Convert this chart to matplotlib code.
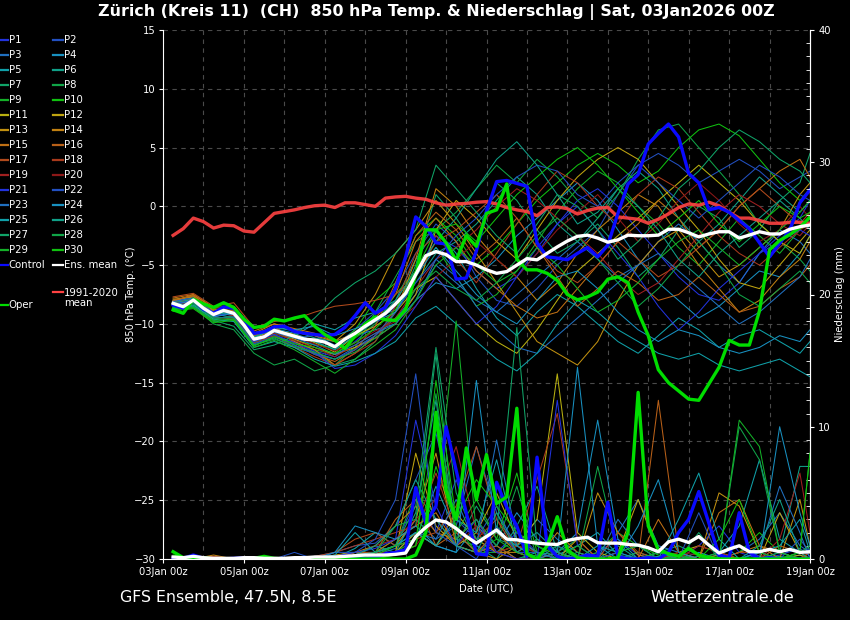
import numpy as np
import matplotlib
matplotlib.use('Agg')
import matplotlib.pyplot as plt
from matplotlib.lines import Line2D
from matplotlib.ticker import MultipleLocator

# time axis in hours after 03Jan2026 00Z
hours6 = np.arange(6, 385, 6)
hours12 = np.r_[np.arange(6, 384, 12), 384]
tick_hours = np.arange(0, 385, 48)
tick_labels = ['03Jan 00z', '05Jan 00z', '07Jan 00z', '09Jan 00z', '11Jan 00z',
               '13Jan 00z', '15Jan 00z', '17Jan 00z', '19Jan 00z']

# 6-hourly series: climatology, ensemble mean, control, operational run
clim_t = [-2.47, -1.9, -1.0, -1.3, -1.85, -1.6, -1.65, -2.1, -2.2, -1.4,
          -0.6, -0.45, -0.3, -0.1, 0.05, 0.1, -0.1, 0.3, 0.3, 0.15,
          0.0, 0.7, 0.8, 0.85, 0.7, 0.6, 0.3, 0.1, 0.2, 0.25,
          0.35, 0.4, 0.2, -0.1, -0.3, -0.45, -0.8, -0.1, -0.05, -0.2,
          -0.65, -0.35, -0.15, -0.1, -0.9, -1.0, -1.1, -1.44, -1.1, -0.65,
          -0.1, 0.2, 0.1, 0.35, 0.05, -0.5, -1.0, -1.0, -1.2, -1.44,
          -1.44, -1.37, -1.35, -1.44]
mean_t = [-8.25, -8.54, -7.97, -8.67, -9.2, -8.85, -9.1, -10.1, -11.3, -11.1,
          -10.55, -10.8, -11.05, -11.3, -11.37, -11.55, -11.95, -11.3, -10.8, -10.2,
          -9.65, -9.1, -8.3, -7.4, -5.8, -4.2, -3.85, -4.1, -4.7, -4.7,
          -5.0, -5.4, -5.7, -5.55, -5.0, -4.45, -4.55, -4.0, -3.45, -2.95,
          -2.55, -2.45, -2.7, -3.05, -2.85, -2.45, -2.5, -2.5, -2.45, -1.95,
          -1.95, -2.25, -2.6, -2.35, -2.16, -2.16, -2.7, -2.45, -2.16, -2.35,
          -2.35, -1.95, -1.73, -1.59]
ctrl_t = [-8.39, -8.67, -7.91, -8.76, -9.1, -8.55, -8.67, -9.6, -10.8, -10.67,
          -10.25, -10.2, -10.65, -10.8, -10.9, -11.0, -10.9, -10.3, -9.3, -8.2,
          -9.1, -8.6, -7.0, -4.3, -0.9, -1.7, -3.1, -3.2, -6.2, -6.1,
          -3.8, -0.4, 2.1, 2.2, 1.95, 1.7, -3.1, -4.3, -4.4, -4.55,
          -4.0, -3.5, -4.3, -3.3, -0.6, 1.9, 2.7, 5.3, 6.2, 7.0,
          5.9, 2.8, 2.0, -0.3, -0.1, -0.5, -1.2, -1.9, -3.1, -4.3,
          -3.15, -2.0, 0.3, 1.4]
oper_t = [-8.8, -9.1, -7.9, -8.3, -8.6, -8.2, -8.6, -9.6, -10.3, -10.2,
          -9.6, -9.75, -9.5, -9.3, -10.2, -10.9, -11.4, -12.1, -11.0, -10.0,
          -9.4, -9.65, -9.7, -8.8, -5.8, -2.0, -2.0, -3.1, -4.6, -2.5,
          -3.4, -0.6, -0.3, 1.9, -4.5, -5.4, -5.4, -5.7, -6.3, -7.5,
          -7.95, -7.7, -7.3, -6.2, -6.0, -6.5, -9.0, -11.0, -13.9, -15.0,
          -15.7, -16.4, -16.5, -15.1, -13.7, -11.4, -11.8, -11.8, -8.9, -3.7,
          -2.9, -2.4, -1.8, -0.9]
mean_p = [0.15, 0.1, 0.2, 0.1, 0.05, 0.05, 0.05, 0.1, 0.1, 0.05,
          0.05, 0.05, 0.1, 0.1, 0.15, 0.15, 0.15, 0.2, 0.25, 0.3,
          0.3, 0.3, 0.35, 0.45, 1.7, 2.4, 2.95, 2.8, 2.3, 1.7,
          1.2, 1.7, 2.2, 1.5, 1.45, 1.3, 1.2, 1.13, 1.1, 1.4,
          1.55, 1.65, 1.23, 1.2, 1.2, 1.1, 1.05, 0.85, 0.55, 1.3,
          1.5, 1.25, 1.7, 1.05, 0.45, 0.75, 1.0, 0.55, 0.55, 0.73,
          0.55, 0.73, 0.5, 0.55]
ctrl_p = [0.1, 0.05, 0.3, 0.05, 0.0, 0.0, 0.05, 0.1, 0.05, 0.0,
          0.0, 0.0, 0.05, 0.05, 0.1, 0.05, 0.1, 0.15, 0.1, 0.05,
          0.1, 0.4, 0.5, 0.7, 5.4, 2.7, 4.0, 10.0, 6.7, 3.5,
          0.4, 0.3, 5.8, 3.9, 2.5, 0.2, 7.7, 1.0, 0.2, 0.0,
          0.1, 0.3, 0.2, 4.3, 0.2, 0.0, 0.0, 0.1, 0.0, 0.5,
          2.0, 3.0, 5.1, 2.7, 0.3, 0.1, 3.5, 0.5, 0.0, 0.1,
          0.0, 0.0, 0.0, 0.0]
oper_p = [0.55, 0.1, 0.0, 0.1, 0.0, 0.0, 0.0, 0.0, 0.05, 0.2,
          0.05, 0.0, 0.0, 0.0, 0.0, 0.0, 0.0, 0.0, 0.0, 0.0,
          0.0, 0.0, 0.0, 0.0, 0.3, 2.0, 11.1, 5.2, 3.0, 8.4,
          4.5, 7.9, 4.2, 4.7, 11.4, 0.4, 0.0, 1.0, 3.2, 0.7,
          0.1, 0.0, 0.0, 0.0, 0.1, 2.0, 12.6, 2.5, 0.7, 0.4,
          0.2, 0.8, 0.3, 0.1, 0.0, 0.0, 0.0, 0.0, 0.0, 0.0,
          0.0, 0.0, 0.0, 0.0]

# perturbed members, 12-hourly: temperature (t..) and precipitation (r..)
t01 = [-8.0, -7.8, -9.0, -9.3, -11.0, -10.2, -11.5, -12.3, -12.8, -11.5, -10.0,
       -8.5, -6.0, -2.5, -3.5, -5.5, -7.0, -6.0, -4.0, -1.5, 0.5, 1.5,
       0.0, -2.0, -4.0, -6.0, -7.5, -8.0, -6.5, -4.0, -2.5, -1.0, 0.5]
t02 = [-8.4, -8.1, -9.4, -9.0, -11.5, -10.8, -11.2, -11.0, -11.8, -10.5, -9.0,
       -7.0, -4.0, -1.5, -3.0, -6.0, -8.0, -8.5, -7.0, -5.0, -3.5, -2.0,
       1.0, 3.5, 4.5, 3.5, 2.0, 3.0, 4.0, 3.0, 1.5, 2.5, 3.0]
t03 = [-8.1, -7.9, -9.1, -9.5, -11.2, -10.9, -11.8, -12.5, -13.0, -12.0, -11.0,
       -9.5, -7.5, -5.0, -6.5, -8.0, -9.0, -7.5, -6.0, -4.5, -3.0, -4.5,
       -6.0, -5.0, -3.0, -1.5, -3.0, -5.0, -6.5, -4.0, -2.0, -3.0, -4.0]
t04 = [-8.5, -8.2, -9.3, -8.8, -11.0, -10.4, -10.8, -11.5, -12.2, -11.0, -10.5,
       -10.0, -8.0, -6.5, -7.0, -6.0, -4.5, -2.5, -1.0, 0.5, 2.0, 0.5,
       -2.0, -4.5, -6.5, -8.0, -9.5, -8.5, -7.0, -5.5, -6.0, -4.0, -2.5]
t05 = [-8.3, -8.0, -9.0, -9.2, -11.4, -10.6, -11.0, -10.0, -10.5, -9.5, -9.0,
       -8.0, -4.5, -2.0, -4.0, -7.0, -9.5, -11.0, -9.0, -7.5, -8.5, -10.0,
       -11.5, -12.5, -11.0, -9.5, -10.5, -12.0, -11.0, -10.5, -11.5, -12.5, -11.5]
t06 = [-8.0, -7.7, -9.2, -9.0, -11.3, -10.3, -10.6, -11.2, -11.5, -10.8, -9.5,
       -8.8, -6.5, -4.0, -3.0, -1.5, 0.5, 2.5, 1.0, -1.5, -3.0, -1.0,
       1.5, 3.0, 1.5, -1.0, -3.0, -1.5, 0.5, 2.5, 1.0, -0.5, 0.5]
t07 = [-8.6, -8.3, -9.5, -9.4, -11.8, -11.2, -12.0, -12.5, -13.5, -13.0, -11.5,
       -9.0, -5.0, 1.0, -1.0, -3.5, 2.0, 0.5, -2.0, -4.0, -3.0, -1.5,
       -3.5, -6.0, -4.5, -2.0, 0.0, -1.0, -3.5, -2.0, 0.5, 2.0, 4.5]
t08 = [-8.7, -8.5, -10.0, -10.5, -12.5, -13.5, -13.0, -14.0, -13.5, -12.0, -9.0,
       -6.0, -3.0, -2.0, -0.5, 1.5, 3.5, 2.0, 4.0, 2.5, 0.5, -1.0,
       1.0, 4.0, 6.5, 7.0, 5.0, 3.0, 1.0, -1.5, -3.0, -4.5, -5.5]
t09 = [-8.9, -8.6, -9.8, -9.6, -11.7, -11.0, -11.6, -12.2, -12.6, -11.2, -10.0,
       -7.5, -5.5, -3.5, -6.0, -8.5, -7.5, -5.5, -3.0, -0.5, 1.5, 3.0,
       2.0, 0.0, -1.5, -3.5, -5.0, -3.0, -1.0, -2.5, -4.0, -2.0, -1.0]
t10 = [-8.8, -8.4, -9.6, -9.3, -11.6, -10.8, -11.4, -11.8, -12.0, -10.5, -8.0,
       -6.5, -2.5, -1.0, -2.5, -5.0, -3.5, -1.5, 0.5, 2.0, 3.5, 4.5,
       3.5, 2.0, 3.0, 5.0, 6.5, 7.0, 6.0, 4.0, 2.0, 0.5, 1.5]
t11 = [-8.0, -7.6, -8.9, -9.0, -11.2, -10.5, -10.9, -11.6, -12.4, -11.0, -10.2,
       -9.0, -7.0, -6.0, -8.0, -10.0, -11.5, -12.5, -10.5, -8.0, -5.5, -4.0,
       -2.5, -1.0, 0.5, 2.0, 3.5, 2.0, 0.5, -1.5, -3.0, -4.0, -2.5]
t12 = [-8.2, -7.9, -9.1, -9.2, -11.1, -10.6, -11.3, -12.0, -12.6, -12.0, -11.2,
       -10.0, -7.5, -2.0, 0.5, -1.0, -3.0, -4.5, -2.0, 0.5, 2.5, 4.0,
       5.0, 4.0, 2.0, 0.0, -2.0, -4.5, -6.5, -7.0, -5.0, -3.0, -2.0]
t13 = [-7.9, -7.7, -8.8, -8.7, -10.8, -10.0, -10.5, -11.0, -11.5, -10.0, -7.5,
       -4.0, -2.0, 0.5, -1.5, -4.0, -6.5, -9.0, -11.5, -12.5, -13.5, -11.5,
       -8.0, -5.0, -3.0, -2.0, -4.0, -6.0, -5.0, -3.5, -2.0, 1.0, 2.0]
t14 = [-8.1, -7.5, -8.7, -8.9, -10.9, -10.2, -11.5, -12.2, -13.5, -12.5, -11.0,
       -9.0, -4.5, 1.5, 0.0, -2.5, -4.5, -6.0, -8.0, -6.5, -4.0, -2.0,
       -0.5, 1.0, 0.0, -2.5, -5.0, -7.0, -9.0, -8.0, -6.0, -4.5, -3.0]
t15 = [-7.8, -7.5, -8.6, -8.5, -10.6, -10.0, -10.4, -10.8, -11.5, -10.8, -9.5,
       -7.5, -3.0, -1.0, -3.0, -5.5, -7.0, -8.5, -9.5, -9.0, -7.0, -5.0,
       -3.0, -1.5, 0.5, -1.0, -3.5, -2.0, 0.0, 1.5, 3.0, 4.0, 2.5]
t16 = [-8.0, -7.6, -9.0, -8.8, -11.0, -10.4, -11.6, -12.6, -13.2, -12.2, -10.2,
       -6.5, -2.5, -0.5, -2.0, -4.5, -3.0, -1.0, -3.5, -6.0, -8.5, -7.0,
       -5.5, -6.5, -8.0, -7.5, -6.0, -7.5, -9.0, -8.5, -7.0, -6.0, -5.0]
t17 = [-7.7, -7.4, -8.5, -8.2, -10.3, -9.8, -9.6, -9.0, -8.5, -8.3, -8.0,
       -7.5, -6.0, -3.0, -2.0, -0.5, 1.0, -1.0, -3.5, -5.5, -6.5, -5.0,
       -3.0, -4.5, -6.0, -5.0, -3.5, -2.0, 0.0, 1.5, 0.0, -1.5, -0.5]
t18 = [-8.3, -8.0, -9.4, -9.6, -11.6, -11.0, -12.0, -12.8, -13.5, -12.5, -11.5,
       -8.5, -4.0, -2.5, -4.5, -6.5, -4.0, -1.5, 1.0, 3.0, 2.0, 0.0,
       -1.5, 1.0, 2.5, 1.5, -0.5, -2.5, -4.0, -5.0, -3.5, -2.0, -1.5]
t19 = [-8.2, -7.8, -9.0, -9.3, -11.4, -10.8, -11.4, -12.0, -12.8, -11.8, -10.8,
       -9.5, -7.0, -4.5, -3.5, -2.0, 0.0, 1.5, 0.5, -1.0, -2.5, -4.0,
       -6.0, -7.5, -6.5, -4.5, -2.5, -0.5, 1.0, 0.0, -1.5, -2.5, -1.5]
t20 = [-8.4, -8.1, -9.2, -9.0, -11.3, -10.6, -11.1, -11.7, -12.3, -11.6, -10.6,
       -9.8, -8.5, -6.0, -4.5, -3.0, -4.5, -6.0, -4.0, -2.0, -0.5, 1.0,
       -1.0, -3.0, -1.5, 0.5, 2.0, 0.5, -1.5, -3.0, -2.0, 0.0, -1.0]
t21 = [-8.3, -8.0, -9.3, -9.1, -11.5, -10.9, -11.6, -12.4, -13.8, -13.5, -12.5,
       -11.0, -8.5, -6.0, -8.0, -10.0, -8.5, -6.0, -3.5, -1.5, 0.0, -2.0,
       -4.0, -6.0, -8.5, -10.5, -9.0, -7.0, -5.5, -4.0, -3.0, -2.0, -2.5]
t22 = [-8.5, -8.2, -9.5, -9.4, -11.7, -11.1, -11.8, -12.6, -13.0, -12.2, -11.0,
       -9.0, -6.5, -4.5, -2.5, -1.0, 1.0, 2.5, 3.5, 3.0, 1.0, 0.0,
       2.0, 3.5, 2.0, 0.5, -1.0, 0.5, 2.0, 3.5, 2.5, 1.0, 0.5]
t23 = [-8.1, -7.8, -9.0, -9.2, -11.3, -10.7, -11.2, -11.8, -12.6, -11.8, -10.8,
       -10.0, -8.0, -4.5, -6.0, -8.5, -10.5, -12.0, -12.5, -11.0, -9.5, -8.0,
       -6.5, -5.0, -4.0, -5.5, -7.0, -8.5, -10.0, -9.0, -7.5, -6.0, -4.5]
t24 = [-8.4, -8.0, -9.4, -9.1, -11.2, -10.3, -10.5, -10.2, -11.0, -10.4, -9.8,
       -9.0, -6.0, -3.5, -5.5, -7.5, -9.0, -10.0, -8.0, -6.0, -5.5, -7.0,
       -9.0, -10.5, -11.5, -10.5, -11.0, -12.0, -12.5, -12.0, -11.0, -11.5, -10.5]
t25 = [-8.6, -8.4, -9.6, -9.8, -12.0, -11.5, -12.0, -13.0, -13.6, -13.2, -12.5,
       -11.5, -9.5, -8.5, -10.0, -11.5, -13.0, -14.0, -12.5, -10.0, -8.0, -9.0,
       -10.5, -11.5, -12.5, -13.0, -12.5, -13.5, -14.0, -13.5, -13.0, -14.0, -14.5]
t26 = [-8.2, -7.9, -9.2, -9.0, -11.1, -10.5, -11.0, -11.5, -12.2, -11.0, -9.8,
       -8.0, -5.5, -3.0, -1.0, 1.5, 4.0, 5.5, 3.5, 1.0, -1.5, -0.5,
       1.5, 0.0, -2.0, -4.5, -6.0, -4.0, -2.5, -1.0, 0.5, -1.0, -2.0]
t27 = [-8.7, -8.5, -9.7, -10.2, -12.2, -11.8, -11.0, -9.5, -7.8, -6.5, -5.5,
       -4.0, -2.0, 3.5, 1.5, -0.5, -2.5, -4.0, -1.5, 1.0, 0.0, -2.0,
       -4.5, -3.0, -1.0, 1.5, 3.0, 5.0, 6.5, 5.5, 4.0, 3.0, 2.0]
t28 = [-8.6, -8.2, -9.5, -9.5, -11.8, -11.3, -11.9, -12.4, -13.0, -12.4, -11.2,
       -10.0, -7.0, -5.5, -7.0, -8.0, -6.5, -4.5, -2.5, -1.0, -2.5, -4.5,
       -6.5, -8.5, -7.0, -5.0, -3.0, -5.0, -7.5, -8.5, -7.0, -5.5, -6.5]
t29 = [-8.8, -8.6, -9.7, -9.6, -12.0, -11.4, -12.2, -13.2, -14.2, -13.0, -11.8,
       -10.5, -8.0, -5.0, -3.5, -5.0, -6.5, -5.5, -3.5, -5.0, -7.0, -9.0,
       -8.0, -6.5, -4.5, -3.0, -2.0, -3.5, -5.0, -3.5, -2.0, -0.5, 0.5]
t30 = [-8.9, -8.7, -9.9, -9.7, -11.9, -11.1, -11.7, -12.0, -12.5, -11.6, -10.4,
       -8.8, -5.5, -2.0, -1.5, -3.0, -1.0, 1.0, 2.5, 4.0, 5.0, 3.5,
       1.5, -0.5, -2.5, -1.0, 0.5, -1.5, -3.0, -1.5, 0.0, -1.0, -0.5]

r01 = [0, 0, 0.1, 0, 0, 0, 0, 0, 0.1, 0.3, 0.5,
       1.0, 4.5, 2.0, 6.0, 1.0, 0.5, 2.0, 0.5, 0, 0, 0.5,
       1.5, 0.3, 0, 0, 1.0, 2.5, 0.5, 0, 0.3, 0.8, 0.2]
r02 = [0.1, 0, 0, 0, 0, 0, 0, 0.2, 0.5, 1.0, 1.2,
       2.5, 6.0, 9.5, 3.0, 1.5, 4.0, 0.5, 0, 1.0, 0.3, 0,
       0, 0.5, 0, 0, 0, 0.3, 1.0, 0.2, 0, 0, 0]
r03 = [0, 0, 0, 0, 0, 0, 0, 0, 0.2, 0.5, 0.3,
       0.8, 3.0, 1.5, 2.5, 8.5, 3.5, 1.0, 3.0, 1.5, 0.5, 0,
       2.0, 4.5, 1.0, 0.5, 0, 0, 0.5, 1.5, 3.5, 1.0, 0.5]
r04 = [0, 0, 0.2, 0, 0, 0, 0, 0, 0, 0, 0.2,
       0.5, 2.0, 1.0, 0.5, 2.5, 1.0, 3.5, 1.5, 0.5, 2.0, 10.5,
       1.5, 0, 0, 0, 0.5, 0, 0, 0, 0, 0.3, 0]
r05 = [0, 0, 0, 0, 0, 0, 0, 0, 0.1, 0.8, 2.0,
       1.0, 1.5, 5.5, 2.0, 0.5, 1.0, 0, 0.5, 0.3, 1.0, 2.0,
       0.3, 0, 0.2, 0, 0, 0.5, 2.5, 7.5, 1.5, 0.5, 0.5]
r06 = [0, 0, 0, 0, 0, 0, 0, 0, 0, 0.2, 1.0,
       0.5, 3.5, 12.0, 1.5, 1.0, 0, 2.5, 5.5, 0.5, 0, 0,
       1.0, 0, 0.5, 0, 0.2, 0, 0, 0, 0.5, 7.0, 7.0]
r07 = [0, 0, 0, 0, 0, 0, 0, 0, 0, 0, 0.5,
       1.5, 2.5, 15.5, 1.0, 4.0, 1.5, 1.0, 0, 0.5, 1.5, 0,
       0, 0, 0.5, 1.0, 0.3, 0, 0, 0, 0.2, 0, 0]
r08 = [0, 0.1, 0, 0, 0, 0, 0, 0, 0, 0.5, 0.3,
       1.0, 5.0, 3.0, 1.0, 0.5, 0.5, 0, 0.3, 1.0, 0, 0,
       0, 0.5, 0, 0.3, 0, 0, 10.0, 7.5, 0.5, 0, 0]
r09 = [0, 0, 0, 0, 0, 0, 0, 0, 0, 0, 0.2,
       0.5, 1.5, 4.0, 18.0, 2.0, 0.5, 1.5, 0.5, 0, 0, 0.5,
       2.0, 1.0, 0, 0, 0, 0.5, 0, 0, 0, 0.5, 8.0]
r10 = [0.2, 0, 0, 0, 0, 0, 0, 0, 0, 0, 0,
       0.3, 1.0, 7.0, 2.5, 0.5, 1.5, 6.5, 0.5, 0, 0, 0,
       0.5, 1.0, 0.3, 0, 0, 0, 0.5, 2.0, 0.5, 0, 0.5]
r11 = [0, 0, 0, 0, 0, 0, 0, 0, 0, 0, 0.3,
       0.5, 2.0, 1.0, 3.5, 1.5, 0.5, 1.0, 3.0, 14.0, 2.0, 0.5,
       0, 0, 0, 0.5, 1.0, 0.5, 0, 0, 0, 0.3, 0]
r12 = [0, 0, 0, 0, 0, 0, 0, 0, 0.3, 0.5, 0.2,
       0.5, 8.0, 2.5, 1.0, 2.0, 5.0, 1.5, 0.5, 0, 1.5, 0,
       0.5, 4.5, 0.5, 0, 0, 0.3, 0, 0, 3.5, 0.5, 0]
r13 = [0, 0, 0, 0, 0, 0, 0, 0, 0, 0, 0.5,
       1.0, 3.0, 8.0, 1.0, 0.5, 0, 1.0, 0.5, 0, 0, 5.0,
       2.0, 0.3, 0, 0, 0, 5.0, 4.0, 0.5, 0, 4.5, 1.0]
r14 = [0, 0, 0.3, 0, 0, 0, 0, 0, 0, 0.5, 1.0,
       2.5, 4.0, 2.0, 1.5, 3.0, 0.5, 0.5, 0, 2.0, 0.5, 0,
       0, 0, 0, 0, 0, 0, 0.5, 1.0, 0, 0, 0]
r15 = [0, 0, 0, 0, 0, 0, 0, 0, 0, 0.3, 0.5,
       1.5, 2.5, 3.5, 1.0, 0.5, 2.0, 0.5, 1.5, 0.5, 0, 0,
       0, 0, 3.0, 0.5, 0, 3.5, 4.5, 1.0, 0.5, 0, 0.5]
r16 = [0, 0, 0, 0, 0, 0, 0, 0, 0.2, 0.5, 0.5,
       3.0, 4.5, 1.0, 2.0, 0.5, 1.0, 0, 0, 0.5, 0, 0,
       0, 0, 12.0, 0.5, 0, 0, 0, 0, 1.0, 0.5, 0]
r17 = [0, 0, 0, 0, 0, 0, 0, 0.2, 0.5, 1.5, 2.0,
       1.0, 1.5, 2.0, 4.0, 8.5, 3.0, 0.5, 0, 0, 0, 0,
       2.0, 0.5, 0, 0, 0, 0, 0.5, 0.5, 0, 0, 0]
r18 = [0, 0, 0.2, 0, 0, 0, 0, 0, 0.5, 1.0, 1.5,
       2.0, 2.5, 6.5, 2.0, 1.5, 3.0, 1.0, 6.0, 11.0, 1.5, 0,
       0, 0, 0, 0, 0, 0, 0, 0, 0, 0, 0.5]
r19 = [0, 0, 0, 0, 0, 0, 0, 0, 0, 0.3, 1.0,
       1.5, 3.0, 4.5, 8.5, 2.0, 0.5, 0, 0, 0.5, 0, 0,
       0, 0, 0, 0, 1.0, 0.5, 0, 0, 1.5, 6.5, 2.0]
r20 = [0, 0, 0, 0, 0, 0, 0, 0, 0, 0.2, 0.5,
       0.5, 1.0, 3.0, 1.0, 2.5, 0.5, 1.0, 0.5, 0, 0, 0,
       0, 0, 0, 0.5, 0.3, 0, 0, 0, 0, 0, 0]
r21 = [0, 0, 0, 0, 0, 0, 0, 0, 0.2, 0.5, 0.8,
       1.5, 10.5, 4.0, 1.0, 3.0, 0.5, 0, 0, 12.0, 1.0, 0,
       0.5, 0, 0, 0, 0, 0, 0, 0.5, 0, 0, 0]
r22 = [0, 0, 0, 0, 0, 0, 0.5, 0, 0.5, 0.5, 1.5,
       4.5, 14.0, 2.0, 1.0, 0, 2.5, 0.5, 0.5, 0, 0, 0,
       0, 0, 0.5, 0, 3.5, 0, 0, 0, 0, 1.5, 0.5]
r23 = [0, 0, 0, 0, 0, 0, 0, 0, 0, 0.3, 0.5,
       1.0, 2.0, 1.5, 4.5, 1.0, 9.0, 1.5, 0.5, 0, 0, 0,
       3.0, 1.0, 0, 0, 0, 0, 0, 0.5, 5.5, 2.0, 0]
r24 = [0, 0, 0, 0, 0, 0, 0, 0, 0.5, 2.5, 2.0,
       1.5, 2.5, 1.0, 0.5, 13.5, 2.0, 1.0, 0, 0.5, 14.5, 1.0,
       0, 2.5, 6.0, 0.5, 0, 0, 0, 0, 10.0, 3.5, 1.0]
r25 = [0, 0, 0, 0, 0, 0, 0, 0, 0.3, 2.0, 0.5,
       1.0, 2.0, 1.0, 3.0, 2.0, 7.5, 1.0, 2.0, 0.5, 0, 1.0,
       0.5, 0, 0, 3.0, 6.5, 1.5, 0, 0.5, 1.0, 3.0, 0.5]
r26 = [0, 0, 0, 0, 0, 0, 0, 0, 0, 0.3, 1.0,
       2.5, 6.0, 3.0, 1.0, 0.5, 3.5, 0.5, 1.5, 0.5, 0, 0,
       0, 0, 0, 0, 0, 0, 0, 1.0, 4.5, 0.5, 0]
r27 = [0, 0, 0, 0, 0, 0, 0, 0, 0, 0, 0.5,
       1.0, 4.0, 16.0, 5.0, 1.5, 2.0, 17.5, 1.0, 0, 0.5, 0,
       0, 0, 0.5, 0, 2.0, 0, 0, 0, 0.5, 0, 0]
r28 = [0.2, 0, 0, 0, 0, 0, 0, 0, 0, 0.2, 0.5,
       2.5, 3.0, 12.5, 1.5, 3.0, 1.0, 5.5, 0, 0, 0, 7.0,
       0.5, 1.0, 0, 0, 0, 0, 0, 0, 0, 0.5, 1.0]
r29 = [0, 0, 0, 0, 0, 0, 0, 0, 0, 0.2, 0.3,
       1.0, 1.5, 10.0, 2.0, 4.5, 1.5, 0.5, 0, 0, 1.0, 0,
       0, 0, 0.5, 0.2, 0, 0, 10.5, 8.5, 0.5, 0, 0]
r30 = [0.3, 0, 0, 0, 0, 0, 0, 0, 0, 0, 0,
       0.5, 1.0, 13.5, 3.0, 6.0, 4.0, 2.0, 1.0, 0.3, 0, 0,
       0, 0, 0, 0, 0, 1.5, 4.5, 0.5, 0, 0.5, 8.0]

member_t = [t01, t02, t03, t04, t05, t06, t07, t08, t09, t10,
            t11, t12, t13, t14, t15, t16, t17, t18, t19, t20,
            t21, t22, t23, t24, t25, t26, t27, t28, t29, t30]
member_p = [r01, r02, r03, r04, r05, r06, r07, r08, r09, r10,
            r11, r12, r13, r14, r15, r16, r17, r18, r19, r20,
            r21, r22, r23, r24, r25, r26, r27, r28, r29, r30]

base_colors = ['#2233dd', '#2250c0', '#2070c0', '#1890c0', '#10a0a8',
               '#10a088', '#10a468', '#10a448', '#14b028', '#10c010',
               '#b8b010', '#c0a410', '#c09010', '#c08012', '#c07014',
               '#b86018', '#b04a1c', '#a83a1c', '#a02020', '#8c1818']
member_colors = base_colors + base_colors[:10]

c_ctrl = '#0a0aff'
c_oper = '#00dd00'
c_mean = 'white'
c_clim = '#ff4242'

fig = plt.figure(figsize=(8.5, 6.2), dpi=100, facecolor='black')
ax = fig.add_axes([163 / 850, 61 / 620, 647 / 850, 529 / 620])
ax.set_facecolor('black')
ax2 = ax.twinx()

for t, p, c in zip(member_t, member_p, member_colors):
    ax.plot(hours12, t, color=c, lw=0.75)
    ax2.plot(hours12, p, color=c, lw=0.75)

ax.plot(hours6, clim_t, color=c_clim, lw=2.4, alpha=0.9)
ax.plot(hours6, ctrl_t, color=c_ctrl, lw=2.4)
ax.plot(hours6, oper_t, color=c_oper, lw=2.4)
ax.plot(hours6, mean_t, color=c_mean, lw=2.4)

ax2.plot(hours6, ctrl_p, color=c_ctrl, lw=2.4)
ax2.plot(hours6, oper_p, color=c_oper, lw=2.4)
ax2.plot(hours6, mean_p, color=c_mean, lw=2.4)

ax.set_xlim(0, 384)
ax.set_ylim(-30, 15)
ax.set_yticks(range(-30, 16, 5))
ax.set_xticks(tick_hours)
ax.set_xticklabels(tick_labels)
ax.set_xticks(np.arange(0, 385, 24), minor=True)
ax.tick_params(colors='white', labelsize=7.2, length=3, pad=2.5)
ax.tick_params(axis='x', which='minor', length=0)
ax.grid(True, which='both', axis='x', color='#4a4a4a', ls=(0, (4, 4)), lw=0.8)
ax.grid(True, which='major', axis='y', color='#4a4a4a', ls=(0, (4, 4)), lw=0.8)
ax.set_axisbelow(True)

ax2.set_ylim(0, 40)
ax2.set_yticks([0, 10, 20, 30, 40])
ax2.yaxis.set_minor_locator(MultipleLocator(1))
ax2.tick_params(colors='white', labelsize=7.2, length=3, pad=3)
ax2.tick_params(which='minor', direction='in', length=3, colors='white')

for a in (ax, ax2):
    a.spines['top'].set_visible(False)
    for s in ('left', 'bottom', 'right'):
        a.spines[s].set_color('white')
ax2.spines['left'].set_visible(False)
ax2.spines['bottom'].set_visible(False)

ax.set_ylabel('850 hPa Temp. (°C)', color='white', fontsize=7.2)
ax.yaxis.set_label_coords(-0.042, 0.5)
ax2.set_ylabel('Niederschlag (mm)', color='white', fontsize=7.2)
ax2.yaxis.set_label_coords(1.038, 0.5)
ax.set_xlabel('Date (UTC)', color='white', fontsize=7.2)
ax.xaxis.set_label_coords(0.5, -0.047)


def fx(x):
    return x / 850


def fy(y):
    return 1 - y / 620


fig.text(0.513, fy(12), 'Zürich (Kreis 11)  (CH)  850 hPa Temp. & Niederschlag | Sat, 03Jan2026 00Z',
         color='white', fontsize=11.4, fontweight='bold', ha='center', va='center')
fig.text(fx(120), fy(598), 'GFS Ensemble, 47.5N, 8.5E', color='white', fontsize=11.4,
         ha='left', va='center')
fig.text(fx(794), fy(598), 'Wetterzentrale.de', color='white', fontsize=11.4,
         ha='right', va='center')


# legend drawn by hand: two columns on the left margin
def legend_entry(x0, x1, y, color, label):
    fig.add_artist(Line2D([fx(x0), fx(x1)], [fy(y), fy(y)], color=color, lw=1.6,
                          transform=fig.transFigure))
    fig.text(fx(x1 + 1), fy(y), label, color='white', fontsize=7.3, ha='left', va='center',
             linespacing=1.0)


for n in range(30):
    row = n // 2
    y = 40 + 15 * row
    if n % 2 == 0:
        legend_entry(0, 7.5, y, member_colors[n], 'P%d' % (n + 1))
    else:
        legend_entry(53, 63, y, member_colors[n], 'P%d' % (n + 1))

legend_entry(0, 7.5, 265, c_ctrl, 'Control')
legend_entry(53, 63, 265, c_mean, 'Ens. mean')
fig.add_artist(Line2D([fx(53), fx(63)], [fy(292), fy(292)], color=c_clim, lw=1.6,
                      transform=fig.transFigure))
fig.text(fx(64), fy(297.5), '1991-2020\nmean', color='white', fontsize=7.3,
         ha='left', va='center', linespacing=1.0)
legend_entry(0, 7.5, 305, c_oper, 'Oper')

fig.savefig('out.png', dpi=100, facecolor='black')
